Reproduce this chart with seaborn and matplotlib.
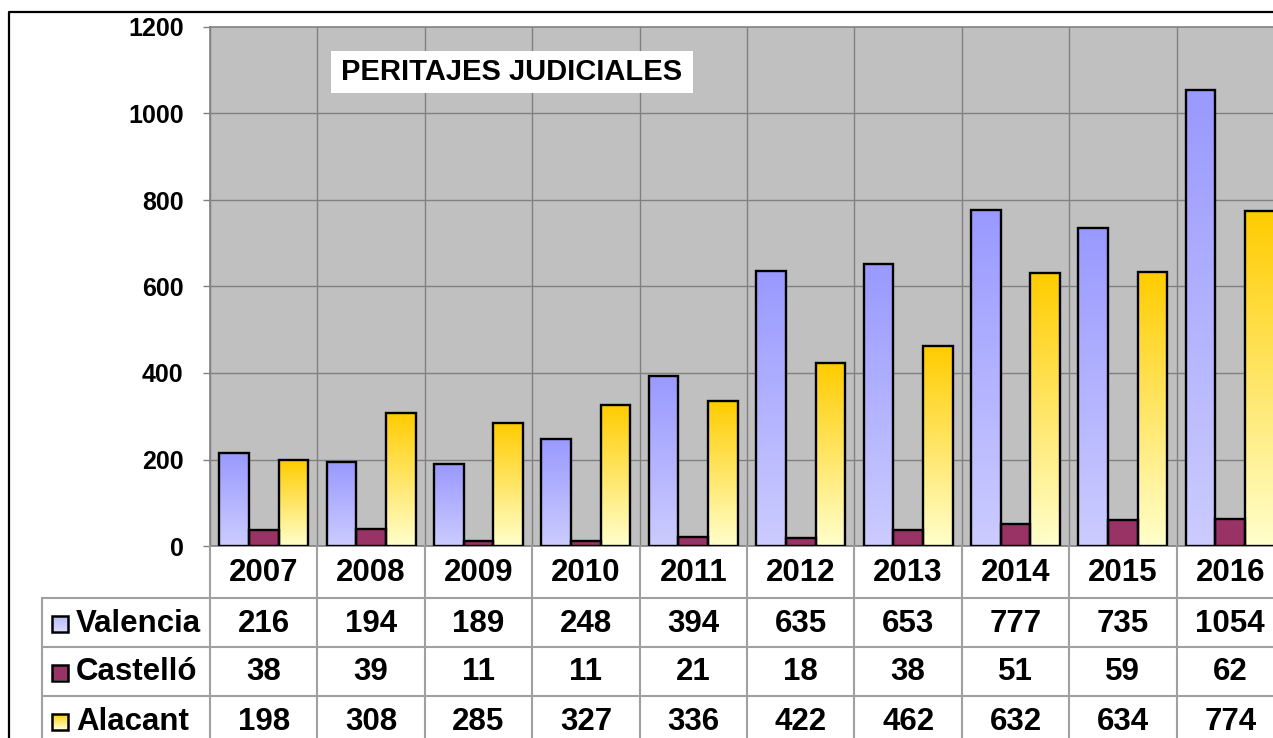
import numpy as np
import pandas as pd
import matplotlib
matplotlib.use("Agg")
import matplotlib.pyplot as plt
import seaborn as sns
from matplotlib.colors import to_rgb
from matplotlib.lines import Line2D
from matplotlib.patches import Rectangle

# ---------------- data ----------------
years = ["2007", "2008", "2009", "2010", "2011", "2012", "2013", "2014", "2015", "2016"]
series = ["Valencia", "Castelló", "Alacant"]
valencia = [216, 194, 189, 248, 394, 635, 653, 777, 735, 1054]
castello = [38, 39, 11, 11, 21, 18, 38, 51, 59, 62]
alacant = [198, 308, 285, 327, 336, 422, 462, 632, 634, 774]
yticks = [0, 200, 400, 600, 800, 1000, 1200]
title = "PERITAJES JUDICIALES"

# ---------------- style ----------------
sns.set_theme(style="white")
plt.rcParams["font.family"] = ["Liberation Sans", "DejaVu Sans"]
plt.rcParams["font.weight"] = "bold"
plt.rcParams["text.color"] = "black"
plt.rcParams["ytick.labelcolor"] = "black"

base_col = {"Valencia": "#9999FF", "Castelló": "#993366", "Alacant": "#FFCC00"}
grad = {"Valencia": ("#9999FF", "#CCCCFF"),
        "Castelló": ("#993366", "#993366"),
        "Alacant": ("#FFCC00", "#FFFFCC")}

W, H = 1273, 738
fig = plt.figure(figsize=(W / 100, H / 100), dpi=100)
fig.patch.set_facecolor("white")


def fx(px):
    return px / W


def fy(py):
    return 1 - py / H


cat_w = (1284 - 210) / 10.0

ax = fig.add_axes([fx(210), fy(546), fx(1284) - fx(210), fy(27) - fy(546)])
ax.set_facecolor("#C0C0C0")

df = pd.DataFrame({
    "year": years * 3,
    "region": [s for s in series for _ in years],
    "value": valencia + castello + alacant,
})

sns.barplot(data=df, x="year", y="value", hue="region", order=years,
            hue_order=series, palette=[base_col[s] for s in series],
            width=0.83, saturation=1, edgecolor="black", linewidth=1.7,
            legend=False, ax=ax, zorder=3)


def gradient_img(top, bottom, n=256):
    t = np.array(to_rgb(top))
    b = np.array(to_rgb(bottom))
    f = np.linspace(0, 1, n)[:, None]
    return (t * (1 - f) + b * f)[:, None, :]


col_lookup = {tuple(np.round(to_rgb(c), 3)): s for s, c in base_col.items()}
for p in list(ax.patches):
    fc = tuple(np.round(p.get_facecolor()[:3], 3))
    s = col_lookup.get(fc)
    if s is None:
        continue
    x0, y0 = p.get_x(), p.get_y()
    w, h = p.get_width(), p.get_height()
    im = ax.imshow(gradient_img(*grad[s]), extent=[x0, x0 + w, y0, y0 + h],
                   aspect="auto", zorder=2.9, interpolation="bilinear")
    im.set_clip_path(p)
    p.set_facecolor("none")

ax.set_xlim(-0.5, 9.5)
ax.set_ylim(0, 1200)
ax.set_yticks(yticks)
ax.set_yticklabels([str(v) for v in yticks], fontsize=18, fontweight="bold",
                   color="black")
ax.set_xticks([])
ax.set_xlabel("")
ax.set_ylabel("")
ax.tick_params(axis="y", left=True, length=5, width=1, color="#808080", pad=14)
for i in range(1, 6):
    ax.axhline(yticks[i], color="#808080", lw=1, zorder=1)
for i in range(11):
    ax.axvline(i - 0.5, color="#808080", lw=1, zorder=1)
for side in ["left", "top", "bottom", "right"]:
    ax.spines[side].set_color("#808080")
    ax.spines[side].set_linewidth(1.2)

# title box
fig.patches.append(Rectangle((fx(331), fy(93)), fx(693) - fx(331), fy(51) - fy(93),
                             transform=fig.transFigure, facecolor="white",
                             edgecolor="none", zorder=5))
fig.text(fx(512), fy(72.5), title, ha="center", va="center", fontsize=21,
         fontweight="bold", color="black", zorder=6)

# ---------------- data table ----------------
left_x = -0.5 - (210 - 42) / cat_w
row_edges = [546, 598, 647, 696, 745]
tax = fig.add_axes([fx(42), fy(745), fx(1284) - fx(42), fy(546) - fy(745)])
tax.set_xlim(left_x, 9.5)
tax.set_ylim(745, 546)
tax.axis("off")
gcol = "#A0A0A0"
for r in row_edges[1:]:
    tax.plot([left_x, 9.5], [r, r], color=gcol, lw=1.5, clip_on=False)
for i in range(11):
    tax.plot([i - 0.5, i - 0.5], [546, 745], color=gcol, lw=1.5, clip_on=False)
tax.plot([left_x, left_x], [598, 745], color=gcol, lw=1.5, clip_on=False)

hc = (row_edges[0] + row_edges[1]) / 2 + 1
for i, y in enumerate(years):
    tax.text(i, hc, y, ha="center", va="center", fontsize=22.5, fontweight="bold")

rows = [valencia, castello, alacant]
for r, (s, vals) in enumerate(zip(series, rows)):
    yc = (row_edges[r + 1] + row_edges[r + 2]) / 2 + 1
    for i, v in enumerate(vals):
        tax.text(i, yc, str(v), ha="center", va="center", fontsize=22.5,
                 fontweight="bold")
    kx0 = left_x + 10 / cat_w
    kw = 16 / cat_w
    kh = 16
    key = Rectangle((kx0, yc - kh / 2), kw, kh, facecolor="none",
                    edgecolor="black", lw=1.8, zorder=4)
    tax.add_patch(key)
    kcols = grad[s] if s != "Valencia" else ("#B8B8FF", "#D8D8FF")
    kim = tax.imshow(gradient_img(*kcols),
                     extent=[kx0, kx0 + kw, yc + kh / 2, yc - kh / 2],
                     aspect="auto", zorder=3)
    kim.set_clip_path(key)
    tax.text(left_x + 34 / cat_w, yc, s, ha="left", va="center", fontsize=22.5,
             fontweight="bold")
tax.set_xlim(left_x, 9.5)
tax.set_ylim(745, 546)

# outer border
fig.lines.append(Line2D([fx(9), fx(9), fx(1280)], [0, fy(12), fy(12)],
                        transform=fig.transFigure, color="black", lw=1.6))

fig.savefig("out.png", dpi=100)
